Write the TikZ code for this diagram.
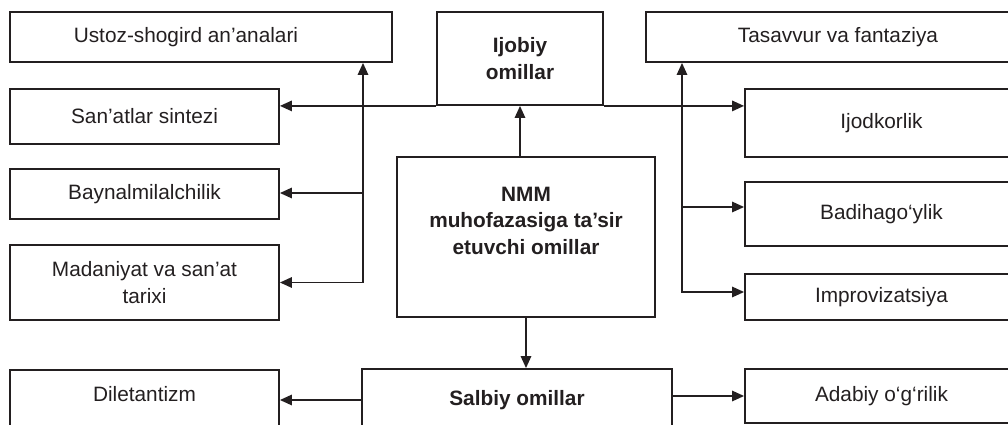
\documentclass[tikz,border=0pt]{standalone}
\usepackage{fontspec}
\setmainfont{Liberation Sans}
\usepackage{tikz}
\usetikzlibrary{arrows.meta}
\definecolor{ink}{HTML}{231F20}
\tikzset{
        box/.style={draw=ink, line width=1.3pt, rectangle, align=center, inner sep=2pt,
                text=ink, font=\fontsize{14.8}{19}\selectfont},
        bbox/.style={box, font=\fontsize{14.8}{19}\selectfont\bfseries},
        arr/.style={draw=ink, line width=1.3pt, -{Triangle[length=0.3cm, width=0.26cm]}},
        ln/.style={draw=ink, line width=1.3pt}
}
\begin{document}
\begin{tikzpicture}[y=-1cm]
        \clip (0,0) rectangle (25.2,10.625);

        \node[bbox, minimum width=4.15cm, minimum height=2.325cm] (ijob) at (13,1.4625) {Ijobiy\\omillar};
        \node[bbox, minimum width=6.45cm, minimum height=4cm] (nmm) at (13.15,5.925) {NMM\\muhofazasiga ta’sir\\etuvchi omillar\\[0.15cm]};
        \node[bbox, minimum width=7.75cm, minimum height=1.55cm] (salb) at (12.925,10) {Salbiy omillar};

        \node[box, minimum width=9.55cm, minimum height=1.25cm] (ustoz) at (5.025,0.925) {Ustoz-shogird an’analari\hspace*{0.75cm}};
        \node[box, minimum width=6.725cm, minimum height=1.375cm] (sanat) at (3.6125,2.9125) {San’atlar sintezi};
        \node[box, minimum width=6.725cm, minimum height=1.25cm] (bayn) at (3.6125,4.85) {Baynalmilalchilik};
        \node[box, minimum width=6.725cm, minimum height=1.875cm] (madan) at (3.6125,7.0625) {Madaniyat va san’at\\tarixi};
        \node[box, anchor=north, minimum width=6.725cm, inner ysep=0pt, text height=0.8cm, text depth=1.2cm] (dilet) at (3.6125,9.225) {Diletantizm};

        \node[box, minimum width=9.3cm, minimum height=1.25cm] (tasav) at (20.8,0.925) {\hspace*{0.3cm}Tasavvur va fantaziya};
        \node[box, minimum width=6.825cm, minimum height=1.7cm] (ijod) at (22.0375,3.075) {Ijodkorlik};
        \node[box, minimum width=6.825cm, minimum height=1.6cm] (badi) at (22.0375,5.35) {Badihago‘ylik};
        \node[box, minimum width=6.825cm, minimum height=1.15cm] (impro) at (22.0375,7.425) {Improvizatsiya};
        \node[box, minimum width=6.825cm, minimum height=1.35cm] (adab) at (22.0375,9.9) {Adabiy o‘g‘rilik};

        \coordinate (lt) at (9.075,2.625);
        \coordinate (rt) at (17.05,2.625);

        \draw[arr] (nmm.north -| ijob.south) -- (ijob.south);
        \draw[arr] (nmm.south) -- (nmm.south |- salb.north);
        \draw[arr] (ijob.south west) -- (ijob.south west -| sanat.east);
        \draw[arr] (ijob.south east) -- (ijob.south east -| ijod.west);

        \draw[arr] (lt) -- (lt |- ustoz.south);
        \draw[arr] (lt) |- (madan.east);
        \draw[arr] (lt |- 0,4.825) -- (bayn.east |- 0,4.825);

        \draw[arr] (rt) -- (rt |- tasav.south);
        \draw[arr] (rt) |- (impro.west |- 0,7.3);
        \draw[arr] (rt |- 0,5.175) -- (badi.west |- 0,5.175);

        \draw[arr] (salb.west) -- (salb.west -| dilet.east);
        \draw[arr] (salb.east |- adab.west) -- (adab.west);
\end{tikzpicture}
\end{document}
